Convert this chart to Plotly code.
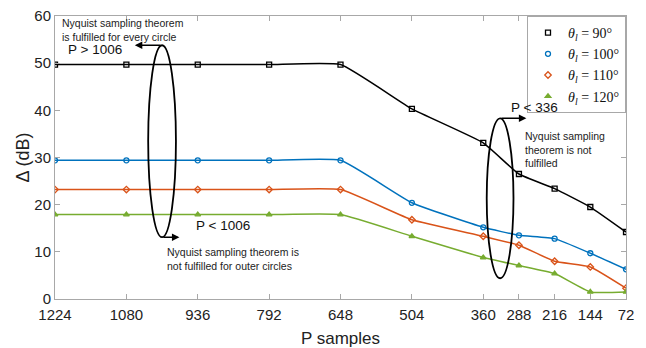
import plotly.graph_objects as go

# Sample counts on the horizontal axis (plotted right-to-left)
p_samples = [1224, 1080, 936, 792, 648, 504, 360, 288, 216, 144, 72]

# Delta (dB) for each look angle
delta_90 = [49.7, 49.7, 49.7, 49.7, 49.7, 40.3, 33.1, 26.5, 23.4, 19.5, 14.2]
delta_100 = [29.4, 29.4, 29.4, 29.4, 29.4, 20.4, 15.2, 13.5, 12.8, 9.7, 6.3]
delta_110 = [23.2, 23.2, 23.2, 23.2, 23.2, 16.8, 13.3, 11.4, 8.0, 6.8, 2.3]
delta_120 = [17.9, 17.9, 17.9, 17.9, 17.9, 13.3, 8.8, 7.1, 5.4, 1.5, 1.5]

series = [
    ("<i>θ<sub>l</sub></i> = 90°", delta_90, "#000000", "square-open"),
    ("<i>θ<sub>l</sub></i> = 100°", delta_100, "#0072BD", "circle-open"),
    ("<i>θ<sub>l</sub></i> = 110°", delta_110, "#D95319", "diamond-open"),
    ("<i>θ<sub>l</sub></i> = 120°", delta_120, "#77AC30", "triangle-up"),
]

tick_vals = p_samples
tick_text = [str(v) for v in p_samples]

SANS = "Liberation Sans, Arial"

fig = go.Figure()

# smooth curves first, then the markers (which carry the legend entries)
for name, vals, color, symbol in series:
    fig.add_trace(go.Scatter(
        x=p_samples, y=vals, mode="lines",
        line=dict(color=color, width=1.5, shape="spline", smoothing=0.4),
        showlegend=False, hoverinfo="skip",
    ))
for name, vals, color, symbol in series:
    fig.add_trace(go.Scatter(
        x=p_samples, y=vals, mode="markers", name=name,
        marker=dict(symbol=symbol, size=5, color=color,
                    line=dict(color=color, width=1.3)),
    ))

# Threshold regions around P = 1006 and P = 336
left_center, left_halfw, left_ylo, left_yhi = 1008, 28, 13.1, 53.8
right_center, right_halfw, right_ylo, right_yhi = 326, 27, 4.4, 38.3

for cx, hw, ylo, yhi in [(left_center, left_halfw, left_ylo, left_yhi),
                         (right_center, right_halfw, right_ylo, right_yhi)]:
    fig.add_shape(type="circle", xref="x", yref="y",
                  x0=cx - hw, x1=cx + hw, y0=ylo, y1=yhi,
                  line=dict(color="black", width=1.8))

arrow = dict(showarrow=True, arrowhead=2, arrowsize=1, arrowwidth=1.5,
             arrowcolor="black", axref="x", ayref="y", text="")
fig.add_annotation(x=left_center + 55, y=left_yhi, ax=left_center, ay=left_yhi, **arrow)
fig.add_annotation(x=left_center - 35, y=left_ylo, ax=left_center, ay=left_ylo, **arrow)
fig.add_annotation(x=right_center - 53, y=right_yhi, ax=right_center, ay=right_yhi, **arrow)


def note(x, y, text, size, color="#222"):
    fig.add_annotation(x=x, y=y, text=text, showarrow=False, xref="x", yref="y",
                       xanchor="left", yanchor="middle", align="left",
                       font=dict(size=size, family=SANS, color=color))


note(1214, 57.0, "Nyquist sampling theorem<br>is fulfilled for every circle", 10.5)
note(1202, 52.9, "P > 1006", 13.5, "#111")
note(944, 15.5, "P < 1006", 13.5, "#111")
note(1002, 8.5, "Nyquist sampling theorem is<br>not fulfilled for outer circles", 10.5)
note(309, 40.5, "P < 336", 13.5, "#111")
note(280, 31.7, "Nyquist sampling<br>theorem is not<br>fulfilled", 10.5)

axis_common = dict(showline=True, linecolor="#a8a8a8", linewidth=1, mirror="ticks",
                   ticks="inside", ticklen=5, tickcolor="#a8a8a8", showgrid=False,
                   zeroline=False, automargin=False,
                   tickfont=dict(family=SANS, size=15, color="#222"))

fig.update_xaxes(range=[1224, 72], tickvals=tick_vals, ticktext=tick_text,
                 ticklabelstandoff=2,
                 title=dict(text="P samples", standoff=10,
                            font=dict(family=SANS, size=17, color="#222")),
                 **axis_common)
fig.update_yaxes(range=[0, 60], tickvals=[0, 10, 20, 30, 40, 50, 60],
                 title=dict(text="Δ (dB)", standoff=0,
                            font=dict(family=SANS, size=18, color="#222")),
                 **axis_common)

fig.update_layout(
    width=646, height=348,
    margin=dict(l=55, r=20, t=16, b=49),
    plot_bgcolor="white", paper_bgcolor="white",
    legend=dict(x=1, y=1, xanchor="right", yanchor="top",
                bgcolor="white", bordercolor="#a8a8a8", borderwidth=1,
                font=dict(family="Liberation Serif, DejaVu Serif", size=14, color="#111"),
                itemwidth=30, tracegroupgap=0),
)

fig.write_html("out.html")
